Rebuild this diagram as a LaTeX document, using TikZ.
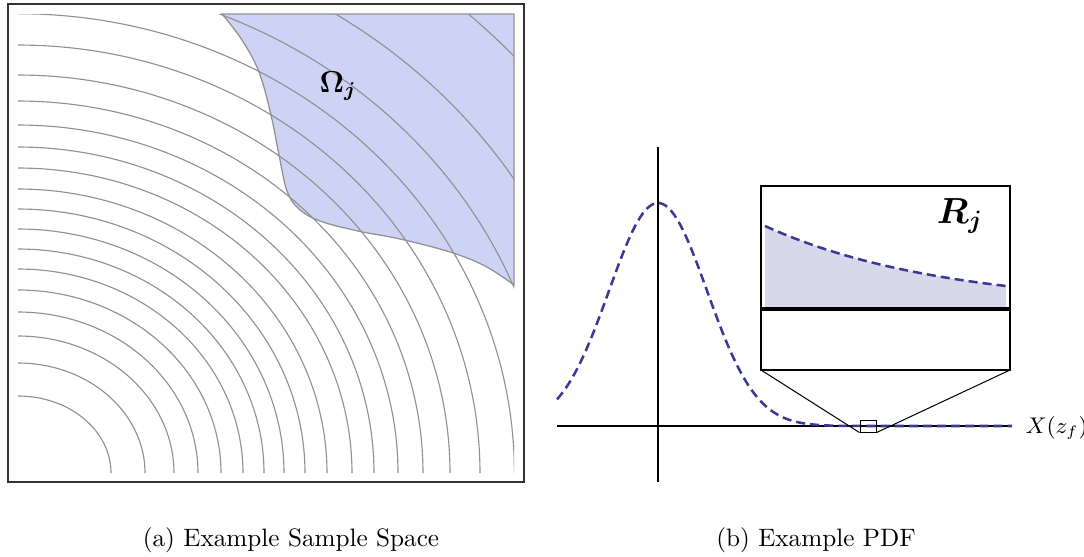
\documentclass[tikz,border=0pt]{standalone}
\usepackage{amsmath,amssymb}
\usepackage{bm}
\usepackage{xcolor}
\usetikzlibrary{positioning,calc}

\definecolor{omegablue}{RGB}{205,211,245}
\definecolor{contourgray}{RGB}{145,145,145}
\definecolor{pdfblue}{RGB}{58,58,150}
\definecolor{tailfill}{RGB}{216,216,234}

\begin{document}
\begin{tikzpicture}[x=0.397pt,y=-0.397pt,
  contour/.style={contourgray,line width=0.45pt},
  pdfcurve/.style={pdfblue,line width=1pt,dash pattern=on 3.6pt off 2pt}]
  \useasboundingbox (0,0) rectangle (1084,556);
  % sample space
  \filldraw[fill=omegablue,draw=contourgray,line width=0.5pt] (222,14) -- (514,14) -- (514,285)
    -- plot[smooth,tension=0.6] coordinates {(514,285) (485,266) (450,252) (400,239) (358,231) (320,221)
       (299,209) (287,191) (279,155) (271,115) (259,72) (242,40) (222,14)} -- cycle;
  \begin{scope}
    \clip (18,14) rectangle (514,473);
    \foreach \rx/\ry in {93/77,127/110,156/137,180/161,203/183,225/204,246/224,266/244,287/264,
                         309/284,334/305,356/326,380/348,405/372,432/398,462/428,496.4/459.3,
                         535/495.5,589/545,670/620}
      \draw[contour] plot[domain=0:90,samples=70,smooth] ({18+\rx*cos(\x)},{473-\ry*sin(\x)});
  \end{scope}
  \draw[black!80,line width=0.7pt] (8,4) rectangle (524,482);
  \node (omega) at (338,86) {\large$\bm{\Omega_j}$};
  % pdf
  \draw[line width=0.5pt] (557,426) -- (1012,426);
  \draw[line width=0.5pt] (658,147) -- (658,482);
  \draw[pdfcurve] plot[domain=557:1012,samples=160] (\x,{426-223*exp(-0.5*((\x-658)/49)^2)});
  \coordinate (inSW) at (761,370);
  \coordinate (inSE) at (1010,370);
  \coordinate (inNE) at (1010,186);
  \node[draw,line width=0.4pt,inner sep=0pt,minimum width=6.35pt,minimum height=4.4pt] (tail) at (868,426.5) {};
  \draw[line width=0.4pt] (inSW) -- (tail.south west);
  \draw[line width=0.4pt] (inSE) -- (tail.south east);
  \fill[tailfill] (765,307) -- plot[domain=765:1006,samples=60] (\x,{307-81*exp(-1.35*(\x-765)/241)}) -- (1006,307) -- cycle;
  \draw[pdfcurve] plot[domain=765:1006,samples=60] (\x,{307-81*exp(-1.35*(\x-765)/241)});
  \draw[line width=1.6pt] (761,309) -- (1010,309);
  \draw[line width=0.8pt] (inSW) rectangle (inNE);
  \node (rj) at (960,216) {\fontsize{14.4}{17}\selectfont$\bm{R_j}$};
  \node[anchor=west,inner sep=0pt] (xlabel) at (1025,428) {\fontsize{9}{11}\selectfont$X(z_f)$};
  % captions
  \node (capa) at (291,540) {(a) Example Sample Space};
  \node (capb) at (816,540) {(b) Example PDF};
\end{tikzpicture}
\end{document}
